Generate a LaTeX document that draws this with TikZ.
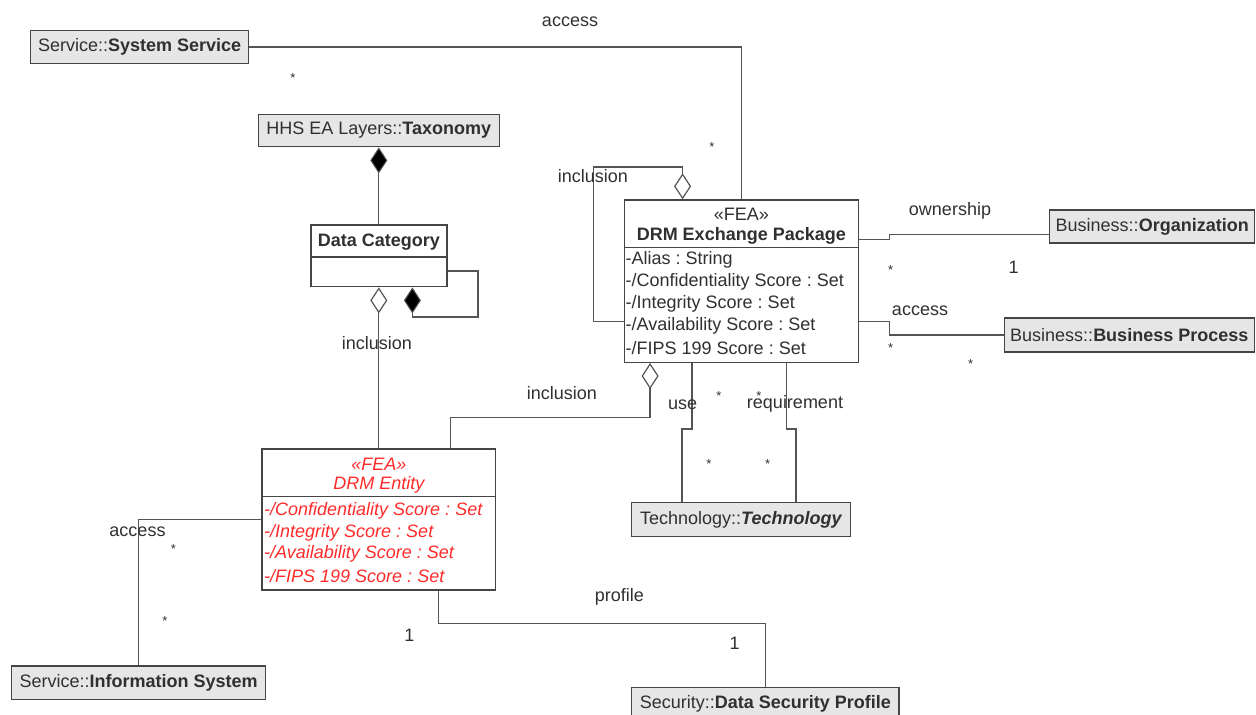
\documentclass[tikz,border=0pt]{standalone}
\usepackage{fontspec}
\setmainfont{Liberation Sans}
\usetikzlibrary{arrows.meta,calc}
\definecolor{txt}{HTML}{303030}
\definecolor{lin}{HTML}{555555}
\definecolor{bord}{HTML}{454545}
\definecolor{boxfill}{HTML}{E6E6E6}
\definecolor{redtxt}{HTML}{FF2B2B}
\frenchspacing
\tikzset{
  lbl/.style={font=\fontsize{18}{22}\selectfont, text=txt, inner sep=0pt, yshift=-1pt},
  mult/.style={font=\fontsize{13}{16}\selectfont, text=txt, inner sep=0pt},
  gbox/.style={draw=bord, fill=boxfill, line width=1.4pt, inner xsep=5pt, inner ysep=0pt,
    font=\fontsize{18}{22}\selectfont, text=txt},
  cls/.style={draw=bord, fill=white, line width=1.4pt, inner sep=0pt},
  divline/.style={draw=bord, line width=1.4pt},
  conn/.style={draw=lin, line width=1.3pt},
  comp/.style={conn, -{Diamond[fill=black,length=26pt,width=17pt,line width=1pt]}},
  agg/.style={conn, -{Diamond[fill=white,length=26pt,width=17pt,line width=1.2pt]}},
  attr/.style={font=\fontsize{18}{22}\selectfont, text=txt, inner sep=0pt, anchor=west},
  redattr/.style={font=\fontsize{18}{22}\selectfont\itshape, text=redtxt, inner sep=0pt, anchor=west},
}
\begin{document}
\begin{tikzpicture}[x=1pt,y=-1pt]
\useasboundingbox (0,0) rectangle (1256,715);
\clip (0,0) rectangle (1256,715);

% gray boxes
\node[gbox, minimum width=218pt, minimum height=32.6pt] (sys) at (139.7,47) {Service::\textbf{System Service}};
\node[gbox, minimum width=241pt, minimum height=32.4pt] (tax) at (378.8,130.5) {HHS EA Layers::\textbf{Taxonomy}};
\node[gbox, minimum height=33pt, anchor=west, inner xsep=6pt] (org) at (1049,226.5) {Business::\textbf{Organization}};
\node[gbox, minimum height=34pt, anchor=west, inner xsep=6pt] (bp) at (1003.5,335) {Business::\textbf{Business Process}};
\node[gbox, minimum width=219pt, minimum height=34pt] (tech) at (741.2,519.7) {Technology::\textbf{\itshape Technology}};
\node[gbox, minimum width=254pt, minimum height=33.3pt] (info) at (138.7,682.7) {Service::\textbf{Information System}};
\node[gbox, minimum width=267.3pt, minimum height=34pt] (dsp) at (765.3,704.3) {Security::\textbf{Data Security Profile}};

% Data Category
\node[cls, minimum width=136pt, minimum height=61.7pt] (dc) at (378.8,255.85) {};
\draw[divline] ($(dc.north west)+(0,32.7)$) -- ($(dc.north east)+(0,32.7)$);
\node[lbl, font=\fontsize{18}{22}\selectfont\bfseries] (dcname) at (378.8,241.5) {Data Category};

% DRM Exchange Package
\node[cls, minimum width=234pt, minimum height=162.3pt] (pkg) at (741.3,281.15) {};
\draw[divline] ($(pkg.north west)+(0,48.3)$) -- ($(pkg.north east)+(0,48.3)$);
\node[lbl] (pkgst) at (741.3,213) {«FEA»};
\node[lbl, font=\fontsize{18}{22}\selectfont\bfseries] (pkgname) at (741.3,235) {DRM Exchange Package};
\node[attr] (pa1) at (625.5,260) {-Alias : String};
\node[attr] (pa2) at (625.5,282.3) {-/Confidentiality Score : Set};
\node[attr] (pa3) at (625.5,304.3) {-/Integrity Score : Set};
\node[attr] (pa4) at (625.5,325.7) {-/Availability Score : Set};
\node[attr] (pa5) at (625.5,348.3) {-/FIPS 199 Score : Set};

% DRM Entity
\node[cls, minimum width=233.4pt, minimum height=141pt] (ent) at (378.8,519.5) {};
\draw[divline] ($(ent.north west)+(0,48.3)$) -- ($(ent.north east)+(0,48.3)$);
\node[lbl, text=redtxt, font=\fontsize{18}{22}\selectfont\itshape] (entst) at (378.8,463) {«FEA»};
\node[lbl, text=redtxt, font=\fontsize{18}{22}\selectfont\itshape] (entname) at (378.8,483.5) {DRM Entity};
\node[redattr] (ea1) at (264,510.7) {-/Confidentiality Score : Set};
\node[redattr] (ea2) at (264,532.7) {-/Integrity Score : Set};
\node[redattr] (ea3) at (264,554) {-/Availability Score : Set};
\node[redattr] (ea4) at (264,575.7) {-/FIPS 199 Score : Set};

% connectors
\draw[conn] (sys.east) -| (pkg.north);
\draw[comp] (dc.north) -- (tax.south);
\draw[comp] ($(dc.north east)+(0,46.7)$) -- ++(30.6,0) -- ++(0,46) -| ($(dc.south)+(33.6,0)$);
\draw[agg] (ent.north) -- (dc.south);
\draw[agg] ($(ent.north west)+(189,0)$) -- ++(0,-31) -| ($(pkg.south west)+(26.5,0)$);
\draw[agg] ($(pkg.north west)+(0,122.3)$) -- ++(-30.3,0) -- ++(0,-154.6) -| ($(pkg.north west)+(59,0)$);
\draw[conn] ($(pkg.north east)+(0,40)$) -- ++(30.7,0) -- ++(0,-5) coordinate (o1) -- (o1 -| org.west);
\draw[conn] ($(pkg.north east)+(0,122)$) -- ++(30.7,0) |- (bp.west);
\draw[conn] ($(pkg.south west)+(68.4,0)$) -- ++(0,66) -- ++(-10,0) coordinate (u1) -- (u1 |- tech.north);
\draw[conn] ($(pkg.south west)+(163,0)$) -- ++(0,66) -- ++(9.4,0) coordinate (r1) -- (r1 |- tech.north);
\draw[conn] ($(ent.north west)+(0,71)$) -| (info.north);
\draw[conn] ($(ent.south west)+(177,0)$) -- ++(0,32.5) -| (dsp.north);

% labels
\node[lbl] (l-acc1) at (570,21) {access};
\node[mult] (m-sys) at (293,78) {*};
\node[mult] (m-pkg1) at (712,147) {*};
\node[lbl] (l-inc1) at (593,175) {inclusion};
\node[lbl] (l-inc2) at (377,342) {inclusion};
\node[lbl] (l-inc3) at (562,392) {inclusion};
\node[lbl] (l-own) at (950,210) {ownership};
\node[mult] (m-own1) at (890.7,270) {*};
\node[lbl] (m-own2) at (1013.5,266.7) {1};
\node[lbl] (l-acc2) at (920,310) {access};
\node[mult] (m-bp1) at (890.7,348.5) {*};
\node[mult] (m-bp2) at (970.7,364.5) {*};
\node[lbl] (l-use) at (682.7,403.3) {use};
\node[lbl] (l-req) at (795,403.3) {requirement};
\node[mult] (m-u1) at (719,396) {*};
\node[mult] (m-r1) at (759,396) {*};
\node[mult] (m-u2) at (709,464) {*};
\node[mult] (m-r2) at (767.7,464) {*};
\node[lbl] (l-acc3) at (137.5,530.7) {access};
\node[mult] (m-i1) at (173.3,549) {*};
\node[mult] (m-i2) at (165,621) {*};
\node[lbl] (l-prof) at (619.3,595.8) {profile};
\node[lbl] (m-p1) at (409.3,634.5) {1};
\node[lbl] (m-p2) at (734.7,642.5) {1};
\end{tikzpicture}
\end{document}
